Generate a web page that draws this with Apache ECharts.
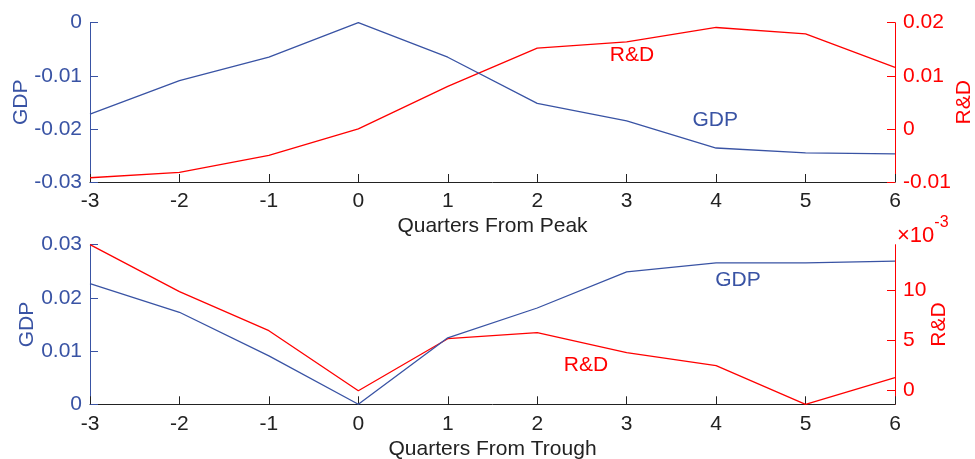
<!DOCTYPE html>
<html>
<head>
<meta charset="utf-8">
<script src="https://cdn.jsdelivr.net/npm/echarts@6/dist/echarts.min.js"></script>
<style>html,body{margin:0;padding:0;background:#fff}#c{width:975px;height:459px}</style>
</head>
<body>
<div id="c"></div>
<script>
const quarters = [-3, -2, -1, 0, 1, 2, 3, 4, 5, 6];
const peakGDP = [-0.0172, -0.0109, -0.0065, 0.0, -0.0065, -0.0152, -0.0185, -0.0236, -0.0245, -0.0247];
const peakRD = [-0.0092, -0.0082, -0.0050, 0.0, 0.0080, 0.0152, 0.0164, 0.0191, 0.0179, 0.0116];
const troughGDP = [0.0227, 0.0173, 0.0091, 0.0, 0.0125, 0.0181, 0.0249, 0.0266, 0.0266, 0.0269];
const troughRD = [0.0146, 0.0099, 0.0060, 0.0, 0.0052, 0.0058, 0.0038, 0.0025, -0.00136, 0.0013];
const troughRDTicks = [0, 0.005, 0.01];

const BLUE = '#3953a4', RED = '#ff0000', BLACK = '#222222';
const FONT = 'Liberation Sans';
const FS = 21;

function pairs(xs, ys) { return xs.map((x, i) => [x, ys[i]]); }

function xAxisDef(gridIndex, name) {
  return {
    type: 'value', gridIndex, min: -3, max: 6, interval: 1,
    name, nameLocation: 'middle', nameGap: 34, nameMoveOverlap: false,
    nameTextStyle: { color: BLACK, fontSize: FS, fontFamily: FONT },
    axisLine: { show: true, onZero: false, lineStyle: { color: BLACK, width: 1 } },
    axisTick: { show: true, inside: true, length: 8, lineStyle: { color: BLACK } },
    axisLabel: { color: BLACK, fontSize: FS, fontFamily: FONT, margin: 9 },
    splitLine: { show: false }
  };
}

function yAxisDef(gridIndex, position, color, name, nameGap, min, max, interval, extra) {
  const a = {
    type: 'value', gridIndex, position, min, max,
    name, nameLocation: 'middle', nameGap, nameRotate: 90, nameMoveOverlap: false,
    nameTextStyle: { color, fontSize: FS, fontFamily: FONT },
    axisLine: { show: true, onZero: false, lineStyle: { color, width: 1 } },
    axisTick: { show: true, inside: true, length: 8, lineStyle: { color } },
    axisLabel: { color, fontSize: FS, fontFamily: FONT, margin: 8 },
    splitLine: { show: false }
  };
  if (interval != null) a.interval = interval;
  return Object.assign(a, extra || {});
}

function annot(text, color, coord) {
  return {
    symbol: 'rect', symbolSize: 1, silent: true,
    itemStyle: { color: 'rgba(0,0,0,0)' },
    label: { show: true, position: 'inside', formatter: text, color, fontSize: FS, fontFamily: FONT },
    data: [{ coord }]
  };
}

const chart = echarts.init(document.getElementById('c'), null, { renderer: 'canvas' });
chart.setOption({
  animation: false,
  backgroundColor: '#ffffff',
  grid: [
    { left: 90, right: 80, top: 22.7, height: 159.3, containLabel: false, outerBoundsMode: 'none' },
    { left: 90, right: 80, top: 244.7, height: 159.6, containLabel: false, outerBoundsMode: 'none' }
  ],
  xAxis: [
    xAxisDef(0, 'Quarters From Peak'),
    xAxisDef(1, 'Quarters From Trough')
  ],
  yAxis: [
    yAxisDef(0, 'left', BLUE, 'GDP', 58, -0.03, 0, 0.01),
    yAxisDef(0, 'right', RED, 'R&D', 59, -0.01, 0.02, 0.01),
    yAxisDef(1, 'left', BLUE, 'GDP', 52, 0, 0.03, 0.01),
    yAxisDef(1, 'right', RED, 'R&D', 34, -0.00136, 0.0146, null, {
      axisTick: { show: true, inside: true, length: 8, lineStyle: { color: RED }, customValues: troughRDTicks },
      axisLabel: { color: RED, fontSize: FS, fontFamily: FONT, margin: 8, customValues: troughRDTicks,
        formatter: v => String(Math.round(v * 1000)) }
    })
  ],
  graphic: [{
    type: 'text', left: 897, top: 215,
    style: {
      text: '{a|×10}{b|-3}',
      rich: {
        a: { fontSize: 22, fontFamily: FONT, fill: RED, padding: [10, 0, 0, 0] },
        b: { fontSize: 16, fontFamily: FONT, fill: RED, verticalAlign: 'top' }
      }
    }
  }],
  series: [
    { type: 'line', name: 'R&D', xAxisIndex: 0, yAxisIndex: 1, data: pairs(quarters, peakRD),
      showSymbol: false, lineStyle: { color: RED, width: 1.3 }, itemStyle: { color: RED },
      markPoint: annot('R&D', RED, [3.06, 0.01397]) },
    { type: 'line', name: 'GDP', xAxisIndex: 0, yAxisIndex: 0, data: pairs(quarters, peakGDP),
      showSymbol: false, lineStyle: { color: BLUE, width: 1.3 }, itemStyle: { color: BLUE },
      markPoint: annot('GDP', BLUE, [3.99, -0.01833]) },
    { type: 'line', name: 'R&D', xAxisIndex: 1, yAxisIndex: 3, data: pairs(quarters, troughRD),
      showSymbol: false, lineStyle: { color: RED, width: 1.3 }, itemStyle: { color: RED },
      markPoint: annot('R&D', RED, [2.545, 0.00257]) },
    { type: 'line', name: 'GDP', xAxisIndex: 1, yAxisIndex: 2, data: pairs(quarters, troughGDP),
      showSymbol: false, lineStyle: { color: BLUE, width: 1.3 }, itemStyle: { color: BLUE },
      markPoint: annot('GDP', BLUE, [4.245, 0.02336]) }
  ]
});
</script>
</body>
</html>
